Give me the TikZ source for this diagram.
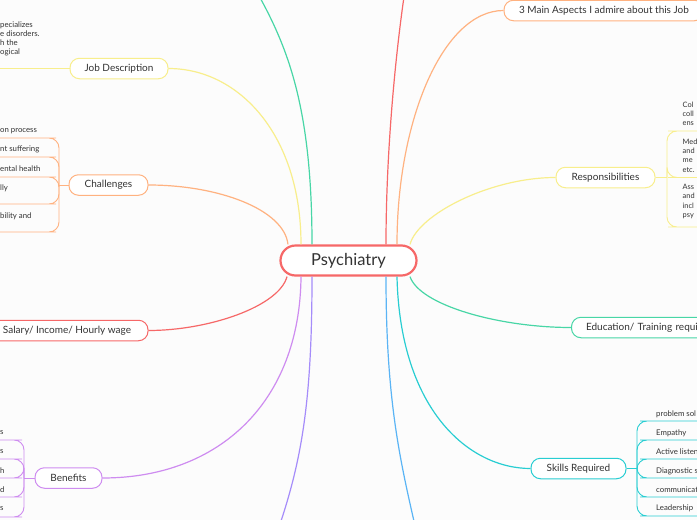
\documentclass[tikz,border=0pt]{standalone}
\usepackage{fontspec}
\setmainfont{Lato}
\usetikzlibrary{calc}
\definecolor{bgc}{RGB}{252,252,252}
\definecolor{txt}{RGB}{51,51,51}
\definecolor{cRed}{RGB}{246,104,104}
\definecolor{cYel}{RGB}{248,238,140}
\definecolor{cOra}{RGB}{255,178,128}
\definecolor{cGrn}{RGB}{72,214,166}
\definecolor{cPur}{RGB}{206,140,240}
\definecolor{cVio}{RGB}{165,140,250}
\definecolor{cBlu}{RGB}{90,180,245}
\definecolor{cCya}{RGB}{40,205,210}
\begin{document}
\begin{tikzpicture}[x=1pt,y=-1pt,
  mnode/.style={draw=#1, line width=1pt, rounded corners=9.5pt, fill=white, minimum height=20.5pt, inner sep=0pt, text=txt, font=\fontsize{10}{12}\selectfont},
  br/.style={draw=#1, line width=1.2pt},
  sb/.style={draw=#1, line width=0.9pt, rounded corners=10pt},
  st/.style={inner sep=0pt, text=txt, font=\fontsize{7.8}{9.3}\selectfont, align=left},
]
\fill[bgc] (0,0) rectangle (697,520);
\useasboundingbox (0,0) rectangle (697,520);

% nodes
\node[draw=cRed, line width=2.2pt, rounded corners=15pt, fill=white, minimum width=136pt, minimum height=30pt, inner sep=0pt, text=txt, font=\fontsize{16.5}{18}\selectfont] (c) at (348.5,260.5) {Psychiatry};
\node[mnode=cYel, minimum width=98pt] (jd) at (119,68.5) {Job Description};
\node[mnode=cOra, minimum width=79pt] (ch) at (108.5,185) {Challenges};
\node[mnode=cRed, minimum width=162pt] (sal) at (67,330.5) {Salary/ Income/ Hourly wage};
\node[mnode=cPur, minimum width=67pt] (ben) at (68.5,478) {Benefits};
\node[mnode=cOra, minimum width=200pt] (asp) at (604,10.5) {3 Main Aspects I admire about this Job};
\node[mnode=cYel, minimum width=99pt] (resp) at (605.5,177.5) {Responsibilities};
\node[mnode=cGrn, anchor=west, text width=160pt, align=left, inner xsep=14.5pt] (edu) at (571,327.5) {Education/ Training requi};
\node[mnode=cCya, minimum width=95pt] (sk) at (578.5,468.5) {Skills Required};

% free ends
\coordinate (tg) at (250,-20);
\coordinate (tr) at (405,-10);
\coordinate (bb) at (416,530);
\coordinate (bv) at (278,530);

% main branches
\draw[br=cYel] ($(c.north)+(-47.5,0)$) .. controls +(0,-110) and +(70,0) .. (jd.east);
\draw[br=cOra] ($(c.north)+(-60.5,0)$) .. controls +(-4,-35) and +(70,0) .. (ch.east);
\draw[br=cRed] ($(c.south)+(-61.5,0)$) .. controls +(-8,30) and +(60,0) .. (sal.east);
\draw[br=cPur] ($(c.south)+(-47.5,0)$) .. controls +(-1,124) and +(118,0) .. (ben.east);
\draw[br=cGrn] ($(c.north)+(-36.5,0)$) .. controls +(0,-145) and +(35,60) .. (tg);
\draw[br=cRed] ($(c.north)+(37.5,0)$) .. controls +(0,-95) and +(-9,60) .. (tr);
\draw[br=cOra] ($(c.north)+(48.5,0)$) .. controls +(0,-125) and +(-60,0) .. (asp.west);
\draw[br=cYel] ($(c.north)+(61.5,0)$) .. controls +(8,-30) and +(-65,0) .. (resp.west);
\draw[br=cGrn] ($(c.south)+(61.5,0)$) .. controls +(10,29) and +(-71,0) .. (edu.west);
\draw[br=cCya] ($(c.south)+(48.5,0)$) .. controls +(3,134) and +(-61,0) .. (sk.west);
\draw[br=cBlu] ($(c.south)+(37.5,0)$) .. controls +(0,124) and +(-16,-70) .. (bb);
\draw[br=cVio] ($(c.south)+(-36.5,0)$) .. controls +(0,124) and +(24,-70) .. (bv);

% Job description child
\node[st, anchor=north west, font=\fontsize{7.8}{9}\selectfont] (jdt) at (0,21.5) {pecializes\\e disorders.\\h the\\ogical};
\coordinate (jdu) at (-5,68.5);
\draw[sb=cYel] (jd.west) -- (jdu);

% Challenges children
\node[st, anchor=west] (ch1) at (0,131) {on process};
\node[st, anchor=west] (ch2) at (0,149.5) {nt suffering};
\node[st, anchor=west] (ch3) at (0,168.5) {ental health};
\node[st, anchor=west] (ch4) at (0,188) {lly};
\node[st, anchor=west] (ch5) at (0,216) {bility and};
\coordinate (chj) at (59,185);
\draw[sb=cOra] (ch.west) -- (chj);
\foreach \yy in {138,157,177,204,232} {\draw[sb=cOra] (chj) |- (46,\yy) -- (-5,\yy);}

% Benefits children
\node[st, anchor=west] (b1) at (0,433) {s};
\node[st, anchor=west] (b2) at (0,452) {s};
\node[st, anchor=west] (b3) at (0,471) {h};
\node[st, anchor=west] (b4) at (0,490) {d};
\node[st, anchor=west] (b5) at (0,509) {s};
\coordinate (bj) at (24,478);
\draw[sb=cPur] (ben.west) -- (bj);
\foreach \yy in {440,459,478,497,517} {\draw[sb=cPur] (bj) |- (12,\yy) -- (-5,\yy);}

% Responsibilities children
\node[st, anchor=north west, font=\fontsize{7.4}{9.4}\selectfont] (r1) at (682.5,101.5) {Col\\coll\\ens};
\node[st, anchor=north west, font=\fontsize{7.4}{9.4}\selectfont] (r2) at (682.5,138.5) {Med\\and\\me\\etc.};
\node[st, anchor=north west, font=\fontsize{7.4}{9.4}\selectfont] (r3) at (682.5,184) {Ass\\and\\incl\\psy};
\coordinate (rj) at (667,177.5);
\draw[sb=cYel] (resp.east) -- (rj);
\foreach \yy in {131,177.5,227} {\draw[sb=cYel] (rj) |- (678,\yy) -- (705,\yy);}

% Skills children
\node[st, anchor=west] (s1) at (656,414) {problem sol};
\node[st, anchor=west] (s2) at (656,433) {Empathy};
\node[st, anchor=west] (s3) at (656,452) {Active listen};
\node[st, anchor=west] (s4) at (656,471) {Diagnostic s};
\node[st, anchor=west] (s5) at (656,490) {communicat};
\node[st, anchor=west] (s6) at (656,508) {Leadership};
\coordinate (skj) at (637,468.5);
\draw[sb=cCya] (sk.east) -- (skj);
\foreach \yy in {421,440,459,478,497,516} {\draw[sb=cCya] (skj) |- (650,\yy) -- (705,\yy);}
\end{tikzpicture}
\end{document}
